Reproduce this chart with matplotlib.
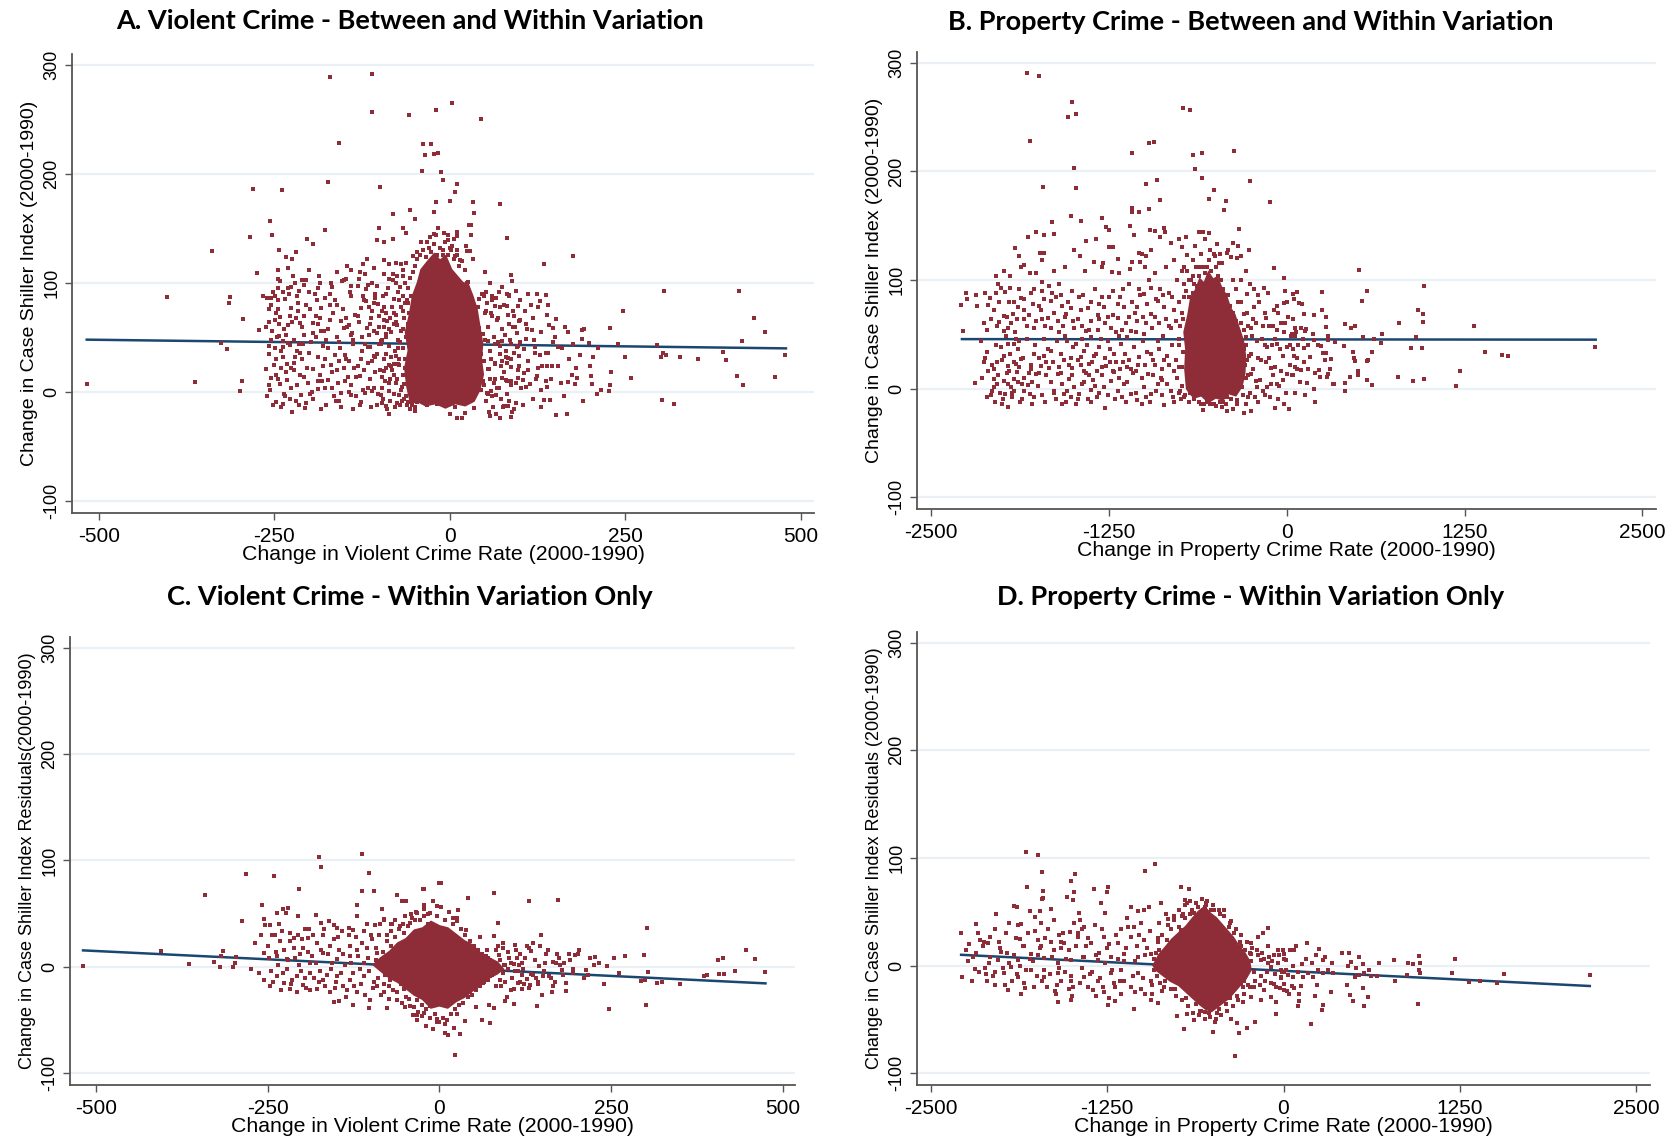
import matplotlib
matplotlib.use("Agg")
import matplotlib.pyplot as plt
import numpy as np

plt.rcParams["axes.unicode_minus"] = False
plt.rcParams["font.family"] = ["Liberation Sans", "DejaVu Sans"]

MARKER = "#8E2C37"
FIT = "#1A476F"
GRID = "#EAF0F5"
SPINE = "#555555"

# ---- data ------------------------------------------------------------------
y_ticks = [-100, 0, 100, 200, 300]
violent_ticks = [-500, -250, 0, 250, 500]
property_ticks = [-2500, -1250, 0, 1250, 2500]

titles = [
    "A. Violent Crime - Between and Within Variation",
    "B. Property Crime - Between and Within Variation",
    "C. Violent Crime - Within Variation Only",
    "D. Property Crime - Within Variation Only",
]
xlabels = [
    "Change in Violent Crime Rate (2000-1990)",
    "Change in Property Crime Rate (2000-1990)",
    "Change in Violent Crime Rate (2000-1990)",
    "Change in Property Crime Rate (2000-1990)",
]
ylabels = [
    "Change in Case Shiller Index (2000-1990)",
    "Change in Case Shiller Index (2000-1990)",
    "Change in Case Shiller Index Residuals(2000-1990)",
    "Change in Case Shiller Index Residuals (2000-1990)",
]

# A. violent crime vs Case Shiller change
viol_between_pts = [
    (-517, 7), (-403, 87), (-363, 9), (-339, 129), (-315, 82), (-313, 87), (-326, 45), (-317, 39),
    (-294, 67), (-298, 1), (-296, 10), (-285, 142), (-280, 186), (-274, 109), (-271, 57), (-256, 157),
    (-253, 144), (-239, 185), (-245, 112), (-243, 130), (-233, 124), (-225, 122), (-219, 128), (-203, 140),
    (-194, 136), (-177, 149), (-173, 193), (-170, 289), (-158, 228), (-110, 292), (-110, 257), (-99, 188),
    (-58, 254), (-20, 259), (4, 265), (-38, 227), (-27, 227), (-35, 217), (-22, 218), (-16, 219),
    (-40, 203), (-12, 202), (-10, 194), (-81, 163), (-56, 167), (-49, 159), (-101, 150), (-104, 139),
    (-93, 138), (-81, 140), (-67, 150), (-62, 146), (-19, 174), (-22, 165), (0, 175), (-23, 145),
    (-19, 144), (-41, 138), (-32, 138), (-52, 125), (-46, 128), (-124, 117), (-118, 122), (-146, 116),
    (-128, 110), (-108, 114), (-94, 121), (-86, 117), (-77, 118), (-69, 117), (-87, 104), (-81, 103),
    (-66, 106),
    (-266, 88), (-260, 86), (-254, 86), (-249, 88), (-245, 95), (-242, 102), (-231, 95), (-223, 106),
    (-211, 103), (-204, 103), (-214, 93), (-192, 90), (-187, 95), (-183, 77), (-169, 100), (-153, 102),
    (-150, 103), (-140, 97), (-131, 97), (-117, 98), (-103, 97),
    (-258, 76), (-245, 76), (-241, 69), (-235, 85), (-226, 77), (-216, 74), (-257, 64), (-249, 66),
    (-243, 62), (-231, 61), (-219, 68), (-213, 63), (-204, 80),
    (-254, 48), (-243, 51), (-238, 47), (-231, 45), (-249, 40), (-238, 41), (-228, 43), (-218, 38), (-209, 44),
    (-257, 35), (-250, 25), (-238, 32), (-232, 26), (-222, 27), (-210, 30),
    (-261, 21), (-255, 13), (-248, 16), (-241, 7), (-232, 11), (-222, 20), (-213, 16),
    (-260, -4), (-247, -9), (-237, -11), (-224, -18), (-215, -12), (-212, -3),
    (-202, 8), (-194, 21), (-188, 3), (-185, 16), (-174, 11), (-165, -4), (-155, -1),
    (-149, 10), (-140, -3), (-138, -16), (-126, -9), (-120, -1), (-111, 1),
    (-178, 30), (-169, 25), (-157, 28), (-147, 30), (-136, 22), (-128, 15), (-116, 27),
    (-190, 50), (-183, 56), (-174, 58), (-160, 50), (-151, 59), (-141, 52),
    (-195, 63), (-185, 68), (-170, 80), (-155, 65), (-143, 61), (-135, 71),
    (-127, 77), (-119, 83), (-111, 74), (-102, 81), (-94, 78), (-85, 68), (-76, 71),
    (-118, 59), (-108, 56), (-98, 47), (-90, 53), (-79, 62),
    (-113, 41), (-103, 35), (-94, 19), (-86, 25), (-77, 33),
    (-108, 4), (-98, -3), (-86, 1), (-77, 8), (-86, -20), (-91, -13),
    (-65, -6), (-49, -17), (-32, -12), (-18, -11), (1, -20),
    (-122, 84), (-115, 78), (-108, 82), (-101, 70), (-96, 74), (-89, 65), (-82, 78), (-75, 61),
    (-67, 74), (-60, 82), (-56, 65), (-51, 78),
    (-117, 41), (-108, 33), (-98, 44), (-91, 35), (-84, 24), (-79, 16), (-72, 25), (-65, 7),
    (-60, 8), (-55, 4), (-48, -3), (-96, 4), (-72, -3), (-60, -9), (-46, -9),
    (45, 250), (11, 191), (7, 183), (33, 174), (35, 164), (71, 172), (27, 153), (30, 153), (30, 144),
    (11, 147), (11, 143), (-2, 144), (82, 141), (-3, 139), (3, 134), (0, 132), (23, 134), (10, 130),
    (25, 129), (29, 129), (33, 122), (15, 121), (7, 125), (-10, 126), (50, 110), (88, 107), (89, 102),
    (24, 100), (26, 101), (10, 100), (134, 117), (176, 125), (94, 93), (111, 90), (124, 90), (137, 89),
    (129, 83), (116, 80), (85, 89), (60, 88), (49, 88), (42, 85), (82, 79), (97, 79), (91, 70), (83, 71),
    (69, 68), (59, 72), (65, 79), (52, 74), (40, 78), (99, 65), (109, 62), (117, 57), (130, 55), (138, 71),
    (151, 67), (142, 61), (147, 59), (168, 55), (188, 57), (192, 58), (188, 49), (198, 45), (229, 59),
    (247, 74), (306, 93), (412, 93), (433, 68), (449, 55), (416, 47), (478, 34), (463, 14), (418, 6),
    (409, 15), (393, 29), (389, 37), (354, 30), (328, 32), (308, 34), (304, 36), (301, 32), (296, 43),
    (303, -7), (320, -11), (250, 32), (258, 13), (204, 32), (201, 15), (203, 7), (215, 2), (227, 1),
    (228, 6), (182, 13), (179, 7), (168, 9), (174, 16), (158, 8), (163, -4), (152, -21), (167, -20),
    (143, -7), (134, -7), (154, 41), (147, 46), (122, 41), (109, 49), (137, 36), (132, 24), (139, 24),
    (146, 24), (112, 28), (99, 33), (137, 10), (139, 5), (124, 15), (123, 12), (114, 7), (109, 5),
    (102, 4), (106, 17), (98, 13), (104, 11), (87, 10), (80, 11), (74, 13), (75, 28), (82, 27), (88, 23),
    (73, 24), (64, 27), (56, 21), (63, 8), (70, 4), (59, 1), (53, -1), (66, -3), (58, -22), (78, -13),
    (83, -13), (88, -23), (34, -15), (22, -19), (18, -24), (10, -24), (8, -14), (54, -2), (44, 2),
    (48, 10), (40, 16), (54, 21), (49, 28), (45, 35), (40, 47), (47, 53), (42, 59), (35, 65), (54, 47),
    (64, 44), (75, 47), (87, 44), (96, 41), (106, 39), (80, 38), (71, 35), (83, 31), (99, 24), (122, 36),
]
# crowded zone around the solid mass of panel A
viol_between_dense = [
    (-100, 60), (-97, 48), (-95, 88), (-93, 30), (-92, 10), (-90, 72), (-88, 95), (-86, 42), (-85, -8),
    (-84, 55), (-82, 20), (-80, 85), (-79, -2), (-78, 38), (-77, 100), (-76, 64), (-75, 12), (-74, 48),
    (-73, 92), (-72, 30), (-71, -12), (-70, 78), (-69, 56), (-68, 5), (-67, 88), (-66, 40), (-65, 68),
    (-64, 22), (-63, 100), (-62, -4), (-62, 50), (-61, 84), (-60, 30), (-60, 62), (-59, 95), (-58, 12),
    (-58, 72), (-57, 105), (-56, 40), (-55, -8), (-55, 88), (-54, 20), (-53, 58), (-52, 110), (-51, 2),
    (-50, -14), (-99, 20), (-96, -10), (-94, 66), (-91, 50), (-89, -16), (-87, 8), (-83, 32), (-81, 108),
    (-78, -14), (-74, 26), (-71, 96), (-68, -8), (-66, 112), (-64, 82), (-61, -12), (-57, -16), (-53, -12),
    (-49, 116), (-46, 122), (-42, 126), (-38, 130), (-34, 124), (-30, 132), (-26, 128), (-22, 136),
    (-18, 126), (-14, 132), (-10, 130), (-6, 138), (-2, 126), (2, 130), (6, 122), (10, 126), (14, 116),
    (18, 120), (22, 112), (-28, 142), (-8, 146), (6, 140), (-16, 150),
    (46, 90), (50, 72), (52, -8), (55, 60), (57, 38), (58, 12), (60, 84), (62, -14), (63, 50), (65, 26),
    (67, 66), (68, 4), (70, 92), (72, 42), (73, -6), (75, 58), (77, 18), (78, 80), (80, 32), (82, -2),
    (84, 62), (86, 48), (88, 6), (90, 74), (92, 36), (94, -10), (96, 54), (98, 20), (100, 66), (47, 28),
    (49, 6), (51, 48), (53, 82), (56, -18), (59, 30), (61, 70), (64, 12), (66, -20), (69, 46), (71, 78),
    (74, 28), (76, -14), (79, 52), (81, 10), (85, 88), (87, 30), (89, -18), (93, 60), (95, 8), (97, 42),
    (-248, 30), (-244, 84), (-240, -14), (-236, 58), (-233, 18), (-229, 90), (-226, 4), (-222, 48),
    (-219, -8), (-216, 82), (-213, 36), (-210, 60), (-206, -15), (-203, 22), (-200, 92), (-197, 46),
    (-194, -6), (-191, 70), (-188, 32), (-185, 100), (-182, 10), (-179, 56), (-176, -12), (-173, 40),
    (-170, 66), (-167, 4), (-164, 84), (-161, 20), (-158, 46), (-155, -14), (-152, 76), (-149, 34),
    (-146, 60), (-143, 0), (-140, 88), (-137, 44), (-134, 14), (-131, 70), (-128, -12), (-125, 50),
    (-122, 20), (-119, 94), (-116, 4), (-113, 62), (-110, 28), (-107, 90), (-104, -12), (-101, 44),
    (-262, 60), (-258, 6), (-252, 92), (-246, 50), (-240, 22), (-234, -4), (-228, 70), (-220, 100),
    (-207, 52), (-199, -2), (-189, 84), (-181, 42), (-171, 90), (-162, -8), (-150, 22), (-139, 54),
    (-127, 30), (-115, 52), (-106, 18), (-160, 110), (-140, 112), (-120, 108), (-200, 112), (-230, 114),
]
viol_between_fill = [
    (-252, -12), (-228, -6), (-205, -10), (-183, -16), (-158, -8), (-133, -4), (-112, -14), (-95, -6), (-75, -10),
    (-256, 2), (-236, -2), (-217, 6), (-196, 0), (-177, 4), (-159, 8), (-141, 6), (-123, 2), (-102, -2),
    (-85, 12), (-70, 2),
    (-245, 12), (-226, 22), (-207, 14), (-187, 10), (-168, 18), (-145, 14), (-130, 24), (-114, 12), (-97, 14),
    (-80, 26), (-66, 16),
    (-258, 42), (-240, 38), (-220, 32), (-201, 36), (-180, 24), (-163, 34), (-144, 28), (-125, 38), (-106, 32),
    (-90, 22), (-73, 40), (-64, 30),
    (-253, 56), (-233, 52), (-215, 44), (-194, 54), (-176, 48), (-156, 40), (-138, 48), (-121, 44), (-104, 54),
    (-87, 58), (-71, 46),
    (-247, 72), (-224, 64), (-208, 70), (-188, 62), (-166, 72), (-148, 68), (-129, 64), (-112, 68), (-94, 60),
    (-80, 72), (-66, 58),
    (-255, 80), (-237, 92), (-218, 88), (-199, 76), (-178, 86), (-160, 80), (-142, 92), (-124, 88), (-106, 86),
    (-90, 90), (-72, 84),
    (-245, 104), (-226, 96), (-207, 98), (-186, 106), (-167, 96), (-148, 104), (-129, 104), (-110, 100),
    (-93, 108), (-75, 106), (-62, 118),
    (52, 92), (58, 100), (66, 86), (74, 96), (82, 90), (100, 84), (108, 74), (118, 68), (126, 78), (140, 80),
    (150, 50), (160, 40), (170, 30), (180, 22), (165, 60), (155, 24), (145, 12), (130, 2), (118, -6),
    (104, -12), (92, -16), (72, -24), (60, -4), (84, -8), (110, 58), (120, 48), (128, 34), (100, 46),
    (90, 60), (112, 20), (126, 22), (140, 36), (176, 44), (186, 34), (200, 24), (212, 40), (230, 18),
    (240, 44), (190, -8), (210, -2), (130, -14),
]
viol_between_core = [(-55, -10), (-60, 5), (-63, 22), (-58, 38), (-62, 55), (-56, 72), (-52, 88), (-45, 100),
                     (-40, 112), (-30, 120), (-22, 126), (-14, 120), (-6, 124), (2, 112), (10, 106), (18, 100),
                     (26, 98), (32, 88), (38, 76), (42, 60), (46, 44), (44, 30), (47, 16), (42, 2), (34, -8),
                     (22, -12), (8, -10), (-6, -14), (-20, -10), (-34, -12), (-46, -8)]
viol_between_fit = [(-517, 48), (479, 40)]

# B. property crime vs Case Shiller change
prop_between_pts = [
    (-1830, 291), (-1745, 288), (-1513, 264), (-1537, 250), (-1485, 253), (-1802, 228), (-1499, 203),
    (-1713, 186), (-1481, 185), (-1085, 217), (-968, 226), (-935, 227), (-729, 258), (-677, 257),
    (-656, 215), (-598, 217), (-645, 202), (-598, 194), (-373, 219), (-261, 191), (-118, 172),
    (-509, 183), (-546, 175), (-429, 173), (-443, 164), (-987, 188), (-916, 192), (-891, 174),
    (-1087, 166), (-1090, 163), (-1038, 163), (-968, 165), (-1518, 159), (-1448, 154), (-1296, 157),
    (-1272, 149), (-1249, 146), (-1654, 153), (-1635, 142), (-1706, 141), (-1766, 144), (-1823, 140),
    (-1910, 129), (-1886, 122), (-1867, 112), (-2043, 104), (-1945, 104), (-1802, 106), (-1734, 125),
    (-1706, 125), (-1720, 118), (-1720, 98), (-1499, 128), (-1452, 122), (-1415, 136), (-1342, 138),
    (-1253, 130), (-1221, 130), (-1352, 117), (-1291, 116), (-1232, 107), (-1190, 119), (-1101, 150),
    (-1071, 141), (-1085, 117), (-1040, 125), (-1015, 124), (-987, 122), (-1031, 117), (-954, 128),
    (-961, 146), (-928, 145), (-891, 140), (-865, 148), (-853, 144), (-811, 134), (-757, 138),
    (-710, 140), (-738, 130), (-703, 123), (-642, 131), (-619, 144), (-588, 144), (-548, 143),
    (-574, 138), (-488, 133), (-422, 125), (-378, 134), (-340, 131), (-338, 147), (-504, 122),
    (-453, 116), (-389, 121), (-324, 122), (-263, 128), (-92, 111), (-22, 102),
    (-2277, 53), (-2289, 77), (-2249, 82), (-2256, 88), (-2186, 86), (-2125, 28), (-2193, 5),
    (-2104, 77), (-2087, 83), (-2043, 88), (-2010, 93), (-1980, 89), (-1945, 93), (-2080, 64),
    (-2022, 61), (-1991, 53), (-1987, 67), (-1940, 60), (-1928, 69), (-1893, 75), (-1869, 83),
    (-1846, 72), (-1816, 68), (-1787, 78), (-1741, 76), (-1706, 82), (-1659, 81), (-1624, 84),
    (-1589, 86), (-1729, 72), (-1682, 65), (-1902, 46), (-1916, 41), (-1881, 44), (-1963, 41),
    (-2010, 38), (-1987, 30), (-2034, 24), (-1963, 21), (-1905, 23), (-1869, 27), (-2061, 9),
    (-2038, 4), (-2015, -4), (-1991, 7), (-1963, 4), (-1940, 1), (-1916, 9), (-1893, 6), (-1865, 4),
    (-1846, -2), (-1823, 3), (-1804, -5), (-1788, 6), (-2108, -8), (-2050, -12), (-1959, -17),
    (-2057, 1), (-1982, -5), (-1921, -2), (-1764, 13), (-1729, 21), (-1776, 32), (-1706, 30),
    (-1659, 35), (-1670, 19), (-1612, 13), (-1577, 4), (-1635, -2), (-1565, -5), (-1530, 9),
    (-1495, 1), (-1518, -8), (-1460, -5), (-1425, 6), (-1401, -10), (-1378, -1), (-1429, 16),
    (-1389, 23), (-1354, 30), (-1577, -14), (-1277, -18), (-1331, -8), (-1284, 1), (-1237, 7),
    (-1190, -2), (-1143, 4), (-1097, -5), (-1050, -11), (-1003, 1), (-956, -5), (-909, 4), (-862, -15),
    (-816, -2), (-745, -10), (-722, -8), (-586, -20), (-457, -17), (-418, -21), (-376, -19),
    (-300, -23), (-249, -21), (-84, -18),
    (-1612, 62), (-1553, 69), (-1495, 56), (-1448, 72), (-1413, 53), (-1378, 62), (-1319, 64),
    (-1284, 75), (-1237, 56), (-1190, 65), (-1143, 75), (-1097, 53), (-1050, 62), (-1542, 44),
    (-1483, 41), (-1425, 35), (-1378, 47), (-1319, 38), (-1260, 44), (-1214, 32), (-1167, 41),
    (-1120, 47), (-1565, 26), (-1507, 19), (-1448, 29), (-1331, 16), (-1272, 21), (-1214, 15),
    (-1155, 24), (-1097, 18), (-1038, 29),
    (-1003, 87), (-956, 93), (-909, 81), (-1050, 75), (-956, 69), (-862, 75), (-1003, 50), (-909, 44),
    (-816, 56), (-956, 32), (-862, 26), (-979, 13), (-886, 10), (-792, 16),
    (44, 87), (51, 82), (-19, 79), (-90, 72), (-143, 65), (-122, 58), (-66, 54), (-19, 52), (39, 50),
    (4, 38), (-66, 41), (-136, 38), (-207, 44), (-253, 32), (-183, 26), (-113, 19), (-43, 16), (4, 13),
    (39, 12), (-66, 4), (-136, 1), (-207, 1), (-253, 13), (51, 30), (-277, 87), (-230, 75), (-160, 93),
    (-300, 69), (-253, 56), (-288, 47), (-347, -11), (-312, 1), (-218, 7),
    (510, 109), (965, 94), (562, 90), (531, 81), (250, 89), (925, 72), (958, 69), (958, 61), (789, 60),
    (1314, 58), (908, 47), (660, 42), (672, 50), (616, 46), (536, 47), (873, 37), (951, 37), (2168, 38),
    (1391, 34), (1515, 31), (1557, 30), (1218, 16), (1189, 2), (782, 11), (885, 7), (965, 9), (599, 34),
    (562, 25), (569, 26), (602, 3), (562, 8), (503, 16), (503, 12), (445, 11), (412, 5), (412, -2),
    (328, 4), (400, 39), (466, 34), (473, 28), (477, 25), (412, 59), (452, 56), (477, 58), (248, 72),
    (276, 66), (276, 57), (192, 68), (119, 69), (107, 78), (84, 79), (49, 82), (42, 87), (75, 89),
    (182, 50), (128, 53), (135, 55), (63, 52), (61, 56), (56, 48), (114, 46), (194, 45), (288, 45),
    (290, 48), (342, 43), (220, 40), (239, 39), (253, 33), (278, 33), (271, 26), (309, 27), (166, 29),
    (119, 37), (75, 28), (42, 36), (152, 18), (103, 17), (70, 18), (42, 12), (199, 14), (224, 17),
    (236, 11), (283, 11), (288, 13), (302, 18), (142, 5), (126, -6), (194, 0), (199, -12), (330, 4),
    (18, -19),
]
prop_between_dense = [
    (-2140, 10), (-2100, 16), (-2070, -2), (-2030, 12), (-1995, -10), (-1970, 14), (-1935, -8),
    (-1900, 15), (-1875, -12), (-1850, 10), (-1810, 14), (-1780, -8), (-1750, 2), (-1720, -6),
    (-1690, 12), (-1655, 6), (-1620, -10), (-1590, 14), (-1545, -2), (-1510, 12), (-1470, -10),
    (-1440, 4), (-1410, 14), (-1360, 8), (-1320, -4), (-1300, 12), (-1255, -6), (-1225, 16),
    (-1180, 10), (-1160, -8), (-1120, 6), (-1080, 14), (-1060, -4), (-1020, 10), (-990, -8), (-940, 12),
    (-920, -2), (-880, 8), (-840, 4), (-800, -8), (-770, 10), (-740, 2),
    (-2150, 44), (-2110, 34), (-2075, 22), (-2045, 40), (-2000, 26), (-1975, 48), (-1945, 32),
    (-1920, 24), (-1890, 36), (-1855, 28), (-1830, 46), (-1795, 22), (-1770, 40), (-1740, 28),
    (-1710, 46), (-1680, 36), (-1645, 24), (-1615, 44), (-1590, 32), (-1560, 48), (-1530, 22),
    (-1500, 38), (-1470, 26), (-1440, 46), (-1405, 40), (-1370, 24), (-1340, 32), (-1305, 46),
    (-1280, 28), (-1245, 36), (-1200, 24), (-1180, 48), (-1140, 32), (-1110, 26), (-1075, 38),
    (-1045, 22), (-1010, 44), (-980, 34), (-930, 22), (-900, 36), (-870, 48), (-840, 30), (-810, 40),
    (-780, 26), (-760, 46), (-730, 34),
    (-2130, 60), (-2060, 72), (-2030, 96), (-1960, 56), (-1955, 80), (-1900, 64), (-1880, 92),
    (-1830, 58), (-1800, 88), (-1760, 62), (-1700, 58), (-1670, 94), (-1640, 70), (-1600, 96),
    (-1570, 58), (-1540, 80), (-1510, 90), (-1470, 64), (-1430, 86), (-1395, 74), (-1350, 92),
    (-1330, 54), (-1300, 84), (-1260, 66), (-1220, 90), (-1200, 52), (-1170, 84), (-1130, 60),
    (-1110, 96), (-1070, 70), (-1030, 86), (-990, 60), (-970, 100), (-930, 66), (-890, 92), (-850, 64),
    (-830, 88), (-790, 72), (-770, 100), (-750, 58), (-720, 84),
    (-740, 70), (-735, 20), (-725, 96), (-715, -6), (-705, 50), (-700, 108), (-690, 84), (-685, -12),
    (-670, 100), (-660, 88), (-650, -10), (-640, 112), (-630, 94), (-615, 104), (-600, -14), (-590, 112),
    (-575, 106), (-560, -12), (-545, 118), (-530, 108), (-515, -14), (-500, 112), (-485, 104),
    (-470, -12), (-460, 100), (-445, 92), (-430, -14), (-415, 86), (-400, 76), (-390, -10), (-375, 70),
    (-360, 62), (-350, -14), (-335, 52), (-320, 44), (-310, -6), (-300, 36), (-295, 22), (-285, 10),
    (-275, 58), (-265, 30), (-260, -4), (-245, 48), (-240, 18), (-230, 92), (-225, -8), (-215, 60),
    (-205, 28), (-195, 80), (-185, 8), (-175, 46), (-165, -2), (-155, 70), (-145, 24), (-130, 88),
    (-120, -8), (-105, 40), (-95, 58), (-80, 20), (-70, 76), (-55, 2), (-40, 60), (-30, 30), (-15, 90),
    (-5, -4), (10, 66), (20, 22), (30, 48), (-320, 100), (-290, 108), (-260, 96), (-350, 120),
    (-410, 128), (-470, 124), (-540, 128), (-600, 124), (-660, 118), (-720, 112),
]
prop_between_fill = [
    (-2080, -6), (-2000, -14), (-1930, -4), (-1860, -10), (-1790, -14), (-1700, -12), (-1640, -4),
    (-1550, -12), (-1480, -14), (-1380, -12), (-1350, 2), (-1210, -10), (-1130, -12), (-1020, -14),
    (-960, -12), (-880, -6), (-790, -12), (-760, -4),
    (-2130, 24), (-2060, 18), (-1950, 16), (-1880, 20), (-1800, 18), (-1740, 14), (-1690, 24), (-1600, 20),
    (-1520, 28), (-1450, 22), (-1390, 12), (-1300, 20), (-1240, 24), (-1170, 18), (-1120, 20), (-1060, 16),
    (-1000, 22), (-940, 26), (-880, 18), (-830, 22), (-760, 20),
    (-2110, 54), (-2040, 58), (-1970, 66), (-1910, 52), (-1850, 64), (-1780, 56), (-1720, 64), (-1660, 56),
    (-1600, 52), (-1560, 66), (-1500, 62), (-1440, 58), (-1390, 54), (-1330, 68), (-1280, 60), (-1220, 68),
    (-1160, 54), (-1110, 66), (-1060, 52), (-1010, 66), (-950, 56), (-900, 60), (-830, 58), (-780, 62),
    (-2180, 76), (-2120, 88), (-2020, 80), (-1920, 80), (-1850, 82), (-1780, 92), (-1720, 90), (-1650, 88),
    (-1580, 76), (-1520, 74), (-1460, 84), (-1380, 80), (-1320, 78), (-1250, 84), (-1190, 78), (-1150, 92),
    (-1090, 80), (-1040, 92), (-980, 78), (-920, 82), (-870, 86), (-810, 84), (-760, 80),
    (-1990, 108), (-1850, 114), (-1760, 106), (-1640, 108), (-1560, 112), (-1420, 108), (-1300, 112),
    (-1180, 106), (-1100, 110), (-1000, 112), (-930, 106), (-850, 112), (-790, 118), (-740, 108),
    (-320, 80), (-280, 70), (-240, 64), (-200, 86), (-170, 58), (-150, 40), (-125, 28), (-100, 12),
    (-80, 46), (-60, 70), (-45, 36), (-25, 8), (-10, 60), (5, 80), (25, 40), (45, 64), (60, 20), (80, 40),
    (100, 56), (-290, -14), (-270, -8), (-200, -12), (-150, -6), (-110, 4), (-60, -10), (-20, -14),
    (60, -4), (90, 6), (120, 24), (150, 40),
    (-760, 40), (-750, -2), (-730, 64), (-710, 90), (-690, 100), (-680, -4), (-660, 104), (-620, -12),
    (-580, -14), (-540, -14), (-500, -16), (-450, -12), (-420, -8), (-380, 100), (-360, 92), (-340, 80),
    (-320, 60), (-310, 20), (-300, 54), (-290, 40), (-280, 26), (-270, 12), (-480, 116), (-510, 124),
    (-560, 112), (-620, 112), (-650, 96),
]
prop_between_core = [(-700, 0), (-712, 18), (-705, 36), (-718, 52), (-690, 68), (-670, 84), (-640, 90),
                     (-610, 100), (-580, 96), (-550, 106), (-520, 100), (-490, 102), (-460, 92), (-430, 86),
                     (-400, 74), (-370, 68), (-340, 56), (-310, 44), (-295, 30), (-300, 14), (-320, 2),
                     (-360, -6), (-410, -4), (-450, -10), (-500, -8), (-550, -12), (-600, -6), (-650, -8),
                     (-680, -4)]
prop_between_fit = [(-2284, 45.5), (2172, 45)]

# C. violent crime vs residuals
viol_within_pts = [
    (-519, 1), (-405, 15), (-364, 3), (-341, 68), (-328, 5), (-318, 10), (-315, 15), (-319, 0),
    (-300, 0), (-298, 4), (-296, 9), (-287, 43), (-282, 87), (-268, 22), (-275, -2), (-258, 58),
    (-241, 85), (-256, 45), (-254, 39), (-246, 39), (-244, 30), (-260, 30), (-236, 51), (-228, 54),
    (-221, 55), (-224, 51), (-233, 40), (-229, 34), (-217, 32), (-212, 27), (-205, 73), (-206, 48),
    (-196, 36), (-192, 27), (-179, 49), (-172, 41), (-172, 94), (-175, 103), (-161, 43), (-154, 39),
    (-149, 37), (-131, 37), (-126, 35), (-120, 58), (-120, 48), (-112, 106), (-102, 88), (-112, 71),
    (-95, 71), (-105, 40), (-94, 39), (-81, 44), (-71, 40), (-61, 68), (-55, 62), (-49, 62), (-24, 73),
    (-22, 73), (-83, 54), (-81, 45), (-69, 40), (-57, 38), (-50, 48), (-43, 41), (-33, 51), (-23, 54),
    (-14, 51), (-4, 57), (0, 79),
    (-263, -6), (-256, -12), (-246, -18), (-236, -9), (-227, -15), (-217, -21), (-207, -9), (-198, -17),
    (-188, -6), (-178, -21), (-169, -12), (-159, -24), (-149, -9), (-140, -18), (-130, -12), (-120, -24),
    (-110, -9), (-101, -31), (-91, -18), (-81, -24), (-72, -12), (-62, -31), (-52, -21), (-43, -37),
    (-33, -31), (-23, -43), (-14, -37), (-10, -58), (-4, -49), (-33, -45),
    (-255, 13), (-236, 10), (-222, 7), (-203, 12), (-188, 4), (-169, 13), (-149, 7), (-130, 10),
    (-110, 4), (-91, 13), (-72, 7),
    (-154, -33), (-146, -32), (-126, -36), (-102, -39), (-76, -39), (-38, -45),
    (3, 79), (42, 65), (79, 69), (131, 62), (173, 63), (27, 53), (20, 46), (25, 43), (39, 35), (59, 28),
    (79, 29), (85, 41), (92, 22), (110, 21), (148, 30), (131, 18), (134, 15), (171, 12), (189, 12),
    (198, 11), (202, 12), (226, 9), (255, 8), (303, 37), (298, 11), (406, 6), (413, 8), (446, 16),
    (460, 7), (475, -5), (430, -4), (408, -7), (415, -7), (390, -8), (385, -9), (293, -13), (300, -12),
    (304, -5), (317, -15), (325, -14), (351, -16), (301, -36), (247, -40), (244, 1), (225, 2), (213, -3),
    (195, -6), (178, -3), (176, 2), (166, 5), (154, 4), (145, 1), (185, -15), (185, -23), (166, -18),
    (164, -24), (149, -26), (151, -9), (160, -9), (141, -10), (144, -14), (133, -7), (127, -11),
    (121, -8), (114, -15), (108, -21), (121, -21), (132, -17), (142, -37), (108, 3), (113, 8), (120, 4),
    (94, 2), (87, 11), (83, 16), (69, 16), (71, 8), (64, 4), (57, -1), (109, -35), (95, -32), (79, -39),
    (72, -36), (62, -50), (74, -53), (53, -38), (38, -51), (26, -44), (30, -63), (23, -83), (22, -57),
    (13, -64), (8, -62), (8, -54), (-3, -52), (-10, -58), (45, -24), (59, -18), (74, -9), (88, -12),
    (98, -28), (83, -18), (50, -9), (64, -15),
]
viol_within_dense = [
    (-250, 20), (-245, -4), (-240, 30), (-235, 2), (-230, -22), (-226, 16), (-222, -2), (-218, 24),
    (-214, -12), (-210, 8), (-206, 30), (-202, -4), (-198, 18), (-194, -20), (-190, 36), (-186, 10),
    (-182, -10), (-178, 22), (-174, -4), (-170, 30), (-166, -18), (-162, 12), (-158, -2), (-154, 26),
    (-150, -14), (-146, 16), (-142, 34), (-138, 2), (-134, -22), (-130, 20), (-126, -6), (-122, 28),
    (-118, 10), (-114, -16), (-110, 34), (-106, 18), (-102, -4), (-98, 26), (-95, -14), (-92, 6),
    (-88, 30), (-85, -26), (-82, 14), (-79, -8), (-76, 24), (-73, -18), (-70, 34), (-67, -2), (-64, 44),
    (-61, -24), (-58, 18), (-55, -34), (-52, 32), (-49, -28), (-46, 38), (-43, -10), (-40, 46),
    (-37, -38), (-34, 52), (-31, -42), (-28, 44), (-25, -46), (-22, 58), (-19, -40), (-16, 50),
    (-13, -48), (-10, 62), (-7, -44), (-4, 48), (-1, -52), (2, 56), (5, -48), (8, 44), (11, -50),
    (14, 52), (17, -44), (20, 40), (23, -40), (26, 46), (29, -36), (32, 36), (35, -34), (38, 30),
    (41, -28), (44, 24), (47, -26), (50, 20), (53, -22), (56, 16), (59, -18), (62, 12), (65, -14),
    (68, 10), (71, -12), (74, 6), (77, -8), (80, 4), (84, -4), (88, 6), (92, -6), (96, 2), (100, -2),
    (104, 4), (110, -4), (116, 2), (122, -2),
    (85, 20), (90, -18), (100, 14), (105, -22), (112, 16), (118, -14), (125, 8), (130, -20), (137, 22),
    (143, -16), (155, 12), (162, -10), (170, 4), (180, -8), (190, 6), (210, -10), (220, 8),
]
viol_within_fill = [
    (-248, 8), (-242, -14), (-238, 14), (-232, 24), (-228, -6), (-220, 6), (-216, -16), (-212, 18),
    (-208, -24), (-204, 2), (-200, 26), (-196, -10), (-192, 14), (-188, -22), (-184, 30), (-180, 4),
    (-176, -14), (-172, 16), (-168, 36), (-164, -8), (-160, 20), (-156, 4), (-152, -20), (-148, 28),
    (-144, -6), (-140, 12), (-136, -28), (-132, 30), (-128, 4), (-124, -18), (-120, 16), (-116, -2),
    (-112, 22), (-108, -26), (-104, 8), (-100, 30), (-96, -20), (-93, 18), (-90, -10), (-87, 40),
    (-84, 2), (-80, -16), (-77, 30), (-74, -30), (-71, 20), (-68, -22), (-65, 28), (-62, -6), (-59, 36),
    (-56, -16), (-53, 40), (-50, -38), (-47, 24), (-44, -30), (-41, 50), (-38, -22), (-35, 44),
    (-32, -50), (-29, 30), (-26, -36), (-23, 48), (-20, -56), (-17, 40),
    (92, 18), (96, -14), (102, 8), (106, -10), (114, -4), (118, 12), (124, -16), (128, 20), (136, -8),
    (140, 6), (146, 20), (152, -4), (158, 16), (168, -14), (174, 8), (182, 4), (194, -2), (204, 16),
    (216, -8), (232, 4), (240, -16), (262, -6), (270, 10),
]
viol_within_core = [(-95, 2), (-85, 8), (-72, 14), (-60, 22), (-48, 26), (-36, 34), (-24, 36), (-12, 42),
                    (0, 38), (12, 36), (24, 30), (36, 24), (48, 20), (60, 12), (72, 8), (84, 4), (92, -2),
                    (84, -6), (72, -10), (60, -16), (48, -22), (36, -28), (24, -32), (12, -38), (0, -36),
                    (-12, -38), (-24, -30), (-36, -26), (-48, -20), (-60, -14), (-72, -10), (-84, -4)]
viol_within_fit = [(-519, 15.5), (475, -15.5)]

# D. property crime vs residuals
prop_within_pts = [
    (-1826, 106), (-1741, 103), (-1710, 87), (-1819, 73), (-1706, 69), (-1715, 62), (-1706, 63),
    (-1509, 79), (-1476, 85), (-1483, 68), (-1533, 64), (-1493, 61), (-1341, 71), (-1247, 73),
    (-1251, 68), (-1294, 58), (-1268, 49), (-984, 88), (-913, 94), (-1084, 54), (-1034, 51), (-987, 52),
    (-951, 54), (-871, 58), (-833, 48), (-816, 43), (-724, 73), (-672, 71), (-696, 61), (-688, 58),
    (-710, 48), (-632, 49), (-568, 52), (-547, 56), (-514, 52), (-419, 52), (-372, 41), (-107, 35),
    (-147, 30), (-1909, 55), (-1892, 54), (-1800, 51), (-1760, 45), (-1727, 51), (-1651, 53),
    (-1630, 42), (-1590, 28), (-1862, 39), (-1871, 25), (-2039, 48), (-2183, 39), (-2124, 22),
    (-2098, 21), (-2084, 27), (-2287, 30), (-2249, 14), (-2278, -11), (-2188, -3), (-2103, -14),
    (-2046, -18), (-1956, -23), (-1831, -21), (-1448, 49), (-1443, 42), (-1412, 36), (-1516, 31),
    (-1578, 16), (-1649, 22), (-1720, 18),
    (-1885, 5), (-1790, 11), (-1696, 7), (-1601, 2), (-1507, 5), (-1412, 8), (-1318, 5), (-1223, 8),
    (-1128, 11), (-1034, 8), (-939, 11),
    (-1980, -7), (-1885, -11), (-1790, -4), (-1696, -11), (-1601, -7), (-1507, -14), (-1412, -11),
    (-1318, -14), (-1223, -7), (-1128, -14), (-1034, -7), (-939, -14),
    (-2027, 5), (-1933, -1), (-2004, 13), (-1838, 18), (-1743, 24), (-1554, 21), (-1460, 27),
    (-1365, 21), (-1270, 27), (-1176, 21), (-1081, 27), (-987, 24),
    (-1616, -26), (-1599, -34), (-1504, -32), (-1500, -28), (-1353, -23), (-1275, -25), (-1244, -37),
    (-1192, -33), (-1053, -25), (-1060, -40), (-939, -32), (-892, -35),
    (-755, -47), (-707, -59), (-684, -45), (-632, -51), (-584, -42), (-556, -43), (-485, -52),
    (-497, -62), (-372, -50), (-343, -84), (-317, -63), (-331, -53), (-260, -58), (-204, -52), (-50, -45),
    (-868, 5), (-797, 18), (-774, 42), (-726, 33), (-655, 27), (-514, 36), (-443, 30), (-372, 24),
    (-301, 18), (-230, 11), (-159, 5), (-88, -1), (-17, -4), (7, 11), (-40, 14), (-111, 18), (-182, 27),
    (-230, 21),
    (-277, -14), (-206, -20), (-135, -23), (-64, -17), (7, -23), (-88, -29), (-159, -32), (-230, -29),
    (-289, -34), (-52, -34),
    (170, 21), (90, 18), (45, 14), (-7, 14), (78, 14), (255, 15), (229, 10), (291, 8), (416, 12),
    (468, 12), (534, 8), (21, 5), (68, 0), (132, 1), (158, 6), (203, 2), (279, 5), (345, 2), (456, 0),
    (480, 3), (513, -2), (565, 1), (608, -4), (674, 2), (785, 5), (875, -9), (884, 2), (917, 1), (958, 9),
    (965, 2), (960, -4), (969, -7), (1192, -7), (1220, 6), (1563, -8), (2173, -9), (792, -14), (662, -10),
    (622, -10), (570, -7), (539, -9), (506, -11), (1319, -15), (1395, -14), (1518, -16), (955, -36),
    (603, -29), (570, -38), (565, -21), (494, -33), (475, -27), (454, -18), (338, -25), (279, -37),
    (272, -41), (196, -54), (222, -28), (241, -18), (125, -19), (113, -26), (111, -33), (106, -38),
    (78, -21), (57, -19), (26, -24), (40, -26), (7, -17), (-26, -21), (-15, -11), (2, -6), (33, -9),
    (68, -11), (104, -6), (139, -11), (175, -7), (210, -11), (246, -4), (281, -7), (317, -4), (352, -7),
]
prop_within_dense = [
    (-2200, 8), (-2160, -6), (-2130, 18), (-2090, 2), (-2060, -10), (-2020, 22), (-1990, -2), (-1960, 12),
    (-1925, -14), (-1900, 26), (-1870, 0), (-1840, -16), (-1810, 30), (-1780, 4), (-1750, -10),
    (-1725, 16), (-1700, -4), (-1670, 34), (-1640, 8), (-1610, -18), (-1580, 22), (-1550, -6),
    (-1520, 14), (-1490, -20), (-1460, 30), (-1430, -2), (-1400, 18), (-1370, -8), (-1340, 38),
    (-1310, 12), (-1280, -20), (-1250, 16), (-1220, -4), (-1190, 28), (-1160, -14), (-1130, 4),
    (-1100, 36), (-1070, -10), (-1040, 18), (-1010, -22), (-980, 10), (-950, 32), (-920, -4), (-890, 22),
    (-860, -24), (-2230, 20), (-2170, 30), (-2110, -8), (-2050, 34), (-1945, 40), (-1860, -26),
    (-1765, 32), (-1680, -20), (-1580, -14), (-1485, 40), (-1390, -20), (-1290, 34), (-1195, -20),
    (-1110, 44), (-1010, 40), (-930, -26), (-880, 40),
    (-880, 14), (-860, 28), (-840, -14), (-820, 38), (-800, -22), (-780, 46), (-760, -28), (-740, 52),
    (-720, -32), (-700, 56), (-680, -38), (-660, 60), (-640, -44), (-620, 58), (-600, -46), (-580, 62),
    (-560, -50), (-540, 60), (-520, -48), (-500, 56), (-480, -50), (-460, 52), (-440, -46), (-420, 46),
    (-400, -42), (-380, 40), (-360, -38), (-340, 34), (-320, -32), (-300, 28), (-280, -26), (-260, 22),
    (-240, -20), (-220, 16), (-200, -14), (-180, 10), (-160, -10), (-140, 6), (-120, -6), (-100, 8),
    (-80, 4), (-60, -8), (-40, 2), (-20, -12), (0, 6), (15, -4), (-900, -10), (-920, 6), (-700, 44),
    (-660, 48), (-560, 54), (-460, -40), (-380, -30), (-300, -16), (-240, 12), (-620, -36), (-760, 22),
]
prop_within_fill = [
    (-2240, 4), (-2210, -14), (-2180, 12), (-2150, 24), (-2120, -2), (-2080, 8), (-2050, -6), (-2010, 16),
    (-1975, -18), (-1950, 2), (-1915, 10), (-1890, -8), (-1850, 18), (-1825, -4), (-1800, 6), (-1770, -20),
    (-1740, 10), (-1710, -14), (-1690, 26), (-1660, -8), (-1630, 14), (-1595, -2), (-1565, 30), (-1540, 6),
    (-1510, -10), (-1475, 18), (-1445, -16), (-1420, 8), (-1385, 26), (-1355, -6), (-1330, 10),
    (-1300, -12), (-1265, 2), (-1235, 20), (-1205, -16), (-1175, 6), (-1150, -4), (-1115, 16),
    (-1085, -20), (-1055, 4), (-1025, 28), (-995, -12), (-965, 16), (-935, -18), (-905, 12), (-875, -16),
    (-1970, 30), (-1880, 38), (-1720, 40), (-1620, -24), (-1520, -22), (-1430, 34), (-1330, -28),
    (-1240, -30), (-1150, 34), (-1060, 36), (-980, -26), (-1150, -26),
    (-890, 26), (-850, -20), (-830, 24), (-800, 34), (-770, -22), (-740, 36), (-720, 46), (-690, -30),
    (-650, 52), (-610, 54), (-590, -42), (-550, 58), (-530, -44), (-490, 52), (-470, -44), (-450, 48),
    (-410, -36), (-390, 36), (-350, 30), (-330, -28), (-310, 22), (-285, -20), (-270, 14), (-250, -18),
    (-230, 4), (-210, -6), (-190, 14), (-170, -18), (-150, 12), (-130, -14), (-110, 2), (-90, -16),
    (-70, 10), (-50, -20), (-30, 10), (-10, -6),
]
prop_within_core = [(-920, 0), (-880, 10), (-840, 16), (-790, 24), (-740, 30), (-690, 36), (-640, 44),
                    (-600, 50), (-560, 54), (-520, 48), (-480, 44), (-440, 38), (-400, 32), (-360, 26),
                    (-320, 18), (-280, 12), (-245, 4), (-235, -4), (-270, -12), (-310, -18), (-350, -24),
                    (-390, -30), (-430, -34), (-470, -38), (-510, -42), (-550, -40), (-590, -36),
                    (-640, -30), (-690, -24), (-740, -18), (-800, -14), (-860, -8), (-900, -4)]
prop_within_fit = [(-2287, 10), (2173, -19)]

# ---- layout (pixel boxes of each plot area in the 1677x1139 figure) ---------
W, H = 1677, 1139
panels = [
    dict(box=(72, 54, 814, 513), pts=viol_between_pts + viol_between_dense + viol_between_fill,
         core=viol_between_core, fit=viol_between_fit, xlim=(-538, 519), xticks=violent_ticks,
         title_xy=(410, 21), ylab_size=14),
    dict(box=(917, 52, 1656, 509), pts=prop_between_pts + prop_between_dense + prop_between_fill,
         core=prop_between_core, fit=prop_between_fit, xlim=(-2600, 2596), xticks=property_ticks,
         title_xy=(1251, 22), ylab_size=14),
    dict(box=(70, 637, 795, 1085), pts=viol_within_pts + viol_within_dense + viol_within_fill,
         core=viol_within_core, fit=viol_within_fit, xlim=(-538, 518), xticks=violent_ticks,
         title_xy=(410, 597), ylab_size=13),
    dict(box=(917, 632, 1650, 1085), pts=prop_within_pts + prop_within_dense + prop_within_fill,
         core=prop_within_core, fit=prop_within_fit, xlim=(-2600, 2600), xticks=property_ticks,
         title_xy=(1251, 597), ylab_size=13),
]

fig = plt.figure(figsize=(W / 100, H / 100), dpi=100)

for i, p in enumerate(panels):
    l, t, r, b = p["box"]
    ax = fig.add_axes([l / W, 1 - b / H, (r - l) / W, (b - t) / H])

    fx, fy = zip(*p["fit"])
    ax.plot(fx, fy, color=FIT, lw=1.8, zorder=2)

    cx, cy = zip(*p["core"])
    ax.fill(cx, cy, color=MARKER, lw=2, zorder=3)

    px, py = zip(*p["pts"])
    ax.scatter(px, py, marker="s", s=10, color=MARKER, linewidths=0, zorder=3)

    ax.set_xlim(*p["xlim"])
    ax.set_ylim(-111, 310)
    ax.set_xticks(p["xticks"])
    ax.set_yticks(y_ticks)
    ax.set_xticklabels([str(v) for v in p["xticks"]], fontsize=15)
    ax.set_yticklabels([str(v) for v in y_ticks], fontsize=13, rotation=90, va="center")
    ax.tick_params(axis="both", length=5, width=1, color=SPINE)
    ax.tick_params(axis="x", pad=5)
    ax.yaxis.grid(True, color=GRID, lw=1.6)
    ax.set_axisbelow(True)
    for s in ("top", "right"):
        ax.spines[s].set_visible(False)
    for s in ("left", "bottom"):
        ax.spines[s].set_color(SPINE)
        ax.spines[s].set_linewidth(1.3)

    ax.set_xlabel(xlabels[i], fontsize=15.3, labelpad=-1)
    ax.set_ylabel(ylabels[i], fontsize=p["ylab_size"], labelpad=4)

    tx, ty = p["title_xy"]
    fig.text(tx / W, 1 - ty / H, titles[i], ha="center", va="center",
             fontsize=19.5, fontweight="bold", family=["Lato", "DejaVu Sans"])

fig.savefig("out.png", dpi=100, facecolor="white")
